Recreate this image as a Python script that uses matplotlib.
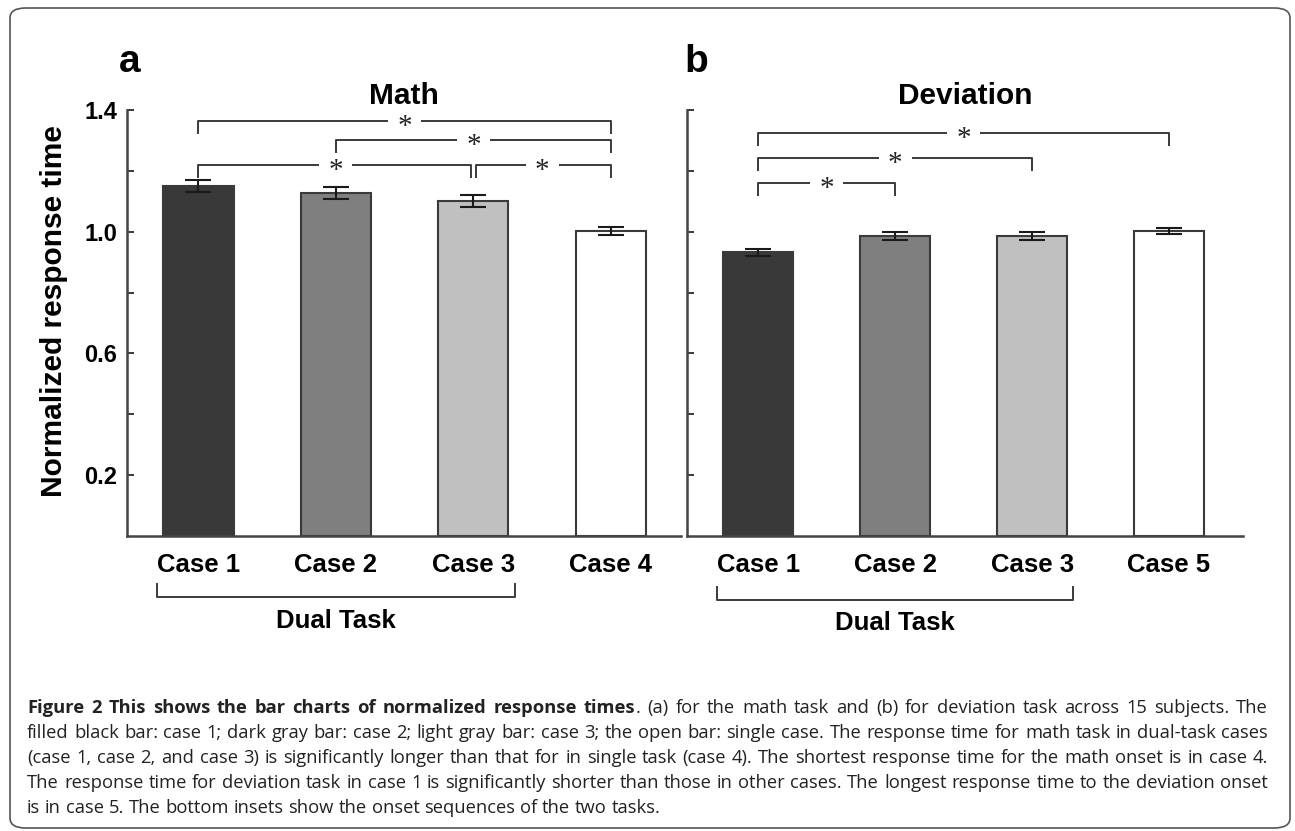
import matplotlib
matplotlib.use('Agg')
import matplotlib.pyplot as plt
import matplotlib.transforms as mtransforms
from matplotlib.patches import FancyBboxPatch

# data
math_cases = ['Case 1', 'Case 2', 'Case 3', 'Case 4']
math_means = [1.150, 1.127, 1.101, 1.003]
math_err = [0.020, 0.019, 0.020, 0.014]
math_pairs = [(1, 4), (2, 4), (1, 3), (3, 4)]
math_pair_y = [1.364, 1.301, 1.219, 1.219]

dev_cases = ['Case 1', 'Case 2', 'Case 3', 'Case 5']
dev_means = [0.932, 0.986, 0.986, 1.002]
dev_err = [0.011, 0.013, 0.012, 0.010]
dev_pairs = [(1, 4), (1, 3), (1, 2)]
dev_pair_y = [1.324, 1.242, 1.160]

bar_colors = ['#393939', '#7f7f7f', '#c0c0c0', '#ffffff']
yticks = [0.2, 0.4, 0.6, 0.8, 1.0, 1.2, 1.4]
ytick_labels = ['0.2', '', '0.6', '', '1.0', '', '1.4']

caption_bold = 'Figure 2 This shows the bar charts of normalized response times'
caption_lines = [
    'Figure 2 This shows the bar charts of normalized response times. (a) for the math task and (b) for deviation task across 15 subjects. The',
    'filled black bar: case 1; dark gray bar: case 2; light gray bar: case 3; the open bar: single case. The response time for math task in dual-task cases',
    '(case 1, case 2, and case 3) is significantly longer than that for in single task (case 4). The shortest response time for the math onset is in case 4.',
    'The response time for deviation task in case 1 is significantly shorter than those in other cases. The longest response time to the deviation onset',
    'is in case 5. The bottom insets show the onset sequences of the two tasks.',
]

W, H = 1295, 831
def fx(px):
    return px / W
def fy(py):
    return 1 - py / H

plt.rcParams['font.family'] = ['Liberation Sans', 'DejaVu Sans']
fig = plt.figure(figsize=(W / 100, H / 100), dpi=100)
dark = '#3a3a3a'

def panel(ax, cases, means, err, pairs, pair_y, title, xlim, labels):
    x = list(range(1, len(cases) + 1))
    ax.bar(x, means, width=0.51, color=bar_colors, edgecolor=dark, linewidth=1.5, zorder=2)
    ax.errorbar(x, means, yerr=err, fmt='none', ecolor='#1a1a1a', elinewidth=1.5,
                capsize=9.5, capthick=1.5, zorder=3)
    ax.set_xlim(*xlim)
    ax.set_ylim(0, 1.4)
    ax.set_xticks(x)
    ax.set_xticklabels(cases, fontsize=18.5, fontweight='bold')
    ax.tick_params(axis='x', length=0, pad=12)
    ax.set_yticks(yticks)
    ax.set_yticklabels(ytick_labels if labels else [''] * len(yticks),
                       fontsize=17, fontweight='bold')
    ax.tick_params(axis='y', direction='in', length=5, width=1.4, color=dark, pad=7)
    for s in ['top', 'right']:
        ax.spines[s].set_visible(False)
    for s in ['left', 'bottom']:
        ax.spines[s].set_linewidth(1.8)
        ax.spines[s].set_color('#444444')
    ax.set_title(title, fontsize=21.5, fontweight='bold', pad=2)

    # significance brackets
    drop, gap = 0.042, 0.12
    for (a, b), yb in zip(pairs, pair_y):
        xa, xb = a, b
        if b == 3 and a == 1 and len(pairs) == 4:
            xb = b - 0.015
        if a == 3:
            xa = a + 0.02
        mid = (a + b) / 2
        kw = dict(color=dark, lw=1.4, clip_on=False, zorder=4, solid_capstyle='butt')
        ax.plot([xa, xa, mid - gap], [yb - drop, yb, yb], **kw)
        ax.plot([mid + gap, xb, xb], [yb, yb, yb - drop], **kw)
        off = mtransforms.ScaledTranslation(0, -9.5 / 72, fig.dpi_scale_trans)
        ax.text(mid, yb, '*', ha='center', va='baseline', fontsize=21,
                family='Liberation Serif', color='#222222',
                transform=ax.transData + off)
    return ax

ax1 = fig.add_axes([fx(127), fy(536), (681 - 127) / W, (536 - 110) / H])
ax2 = fig.add_axes([fx(687), fy(536), (1243 - 687) / W, (536 - 110) / H])
panel(ax1, math_cases, math_means, math_err, math_pairs, math_pair_y, 'Math', (0.48, 4.51), True)
panel(ax2, dev_cases, dev_means, dev_err, dev_pairs, dev_pair_y, 'Deviation', (0.48, 4.54), False)

# Dual Task bracket under cases 1-3
for ax, yl, yt, ytxt in [(ax1, 597, 584, 621), (ax2, 600, 587, 623)]:
    tr = mtransforms.blended_transform_factory(ax.transData, fig.transFigure)
    ax.plot([0.70, 0.70, 3.30, 3.30], [fy(yt), fy(yl), fy(yl), fy(yt)], color=dark,
            lw=1.4, transform=tr, clip_on=False)
    ax.text(2.0, fy(ytxt), 'Dual Task', ha='center', va='center', fontsize=18.5,
            fontweight='bold', transform=tr)

fig.text(fx(54), fy(311), 'Normalized response time', rotation=90, ha='center', va='center',
         fontsize=21.5, fontweight='bold')
fig.text(fx(119), fy(72), 'a', fontsize=28, fontweight='bold', va='baseline')
fig.text(fx(684), fy(72), 'b', fontsize=28, fontweight='bold', va='baseline')

# caption box
box = FancyBboxPatch((fx(10), fy(828)), fx(1290) - fx(10), fy(8) - fy(828),
                     boxstyle='round,pad=0,rounding_size=0.012', transform=fig.transFigure,
                     fill=False, edgecolor='#555555', linewidth=1.2)
fig.patches.append(box)

# caption text, justified line by line
renderer = fig.canvas.get_renderer()
cap_family = ['Open Sans', 'DejaVu Sans']

def width_of(s, weight, size):
    t = fig.text(0, 0, s, fontsize=size, family=cap_family, weight=weight)
    w = t.get_window_extent(renderer).width
    t.remove()
    return w

def line_words(i, line):
    if i == 0:
        bold = caption_bold.split()
        rest = line[len(caption_bold):].split()
        words = [[(w, 'bold')] for w in bold]
        words[-1].append((rest[0], 'normal'))
        words += [[(w, 'normal')] for w in rest[1:]]
        return words
    return [[(w, 'normal')] for w in line.split()]

x_left, x_right = 27, 1268
base_size = 12
space = width_of('a a', 'normal', base_size) - width_of('aa', 'normal', base_size)
nat = []
for i, line in enumerate(caption_lines):
    ws = line_words(i, line)
    tot = sum(width_of(r, wt, base_size) for w in ws for r, wt in w) + space * (len(ws) - 1)
    nat.append(tot)
cap_size = base_size * 0.985 * (x_right - x_left) / max(nat)

for i, line in enumerate(caption_lines):
    ws = line_words(i, line)
    widths = [[width_of(r, wt, cap_size) for r, wt in w] for w in ws]
    total = sum(sum(w) for w in widths)
    if i < len(caption_lines) - 1:
        g = (x_right - x_left - total) / (len(ws) - 1)
    else:
        g = space * cap_size / base_size
    xpos = x_left
    yb = 713 + 25 * i
    for w, wl in zip(ws, widths):
        for (r, wt), rw in zip(w, wl):
            fig.text(fx(xpos), fy(yb), r, fontsize=cap_size, family=cap_family, weight=wt,
                     va='baseline', ha='left', color='#222222')
            xpos += rw
        xpos += g

fig.savefig('out.png', dpi=100)
